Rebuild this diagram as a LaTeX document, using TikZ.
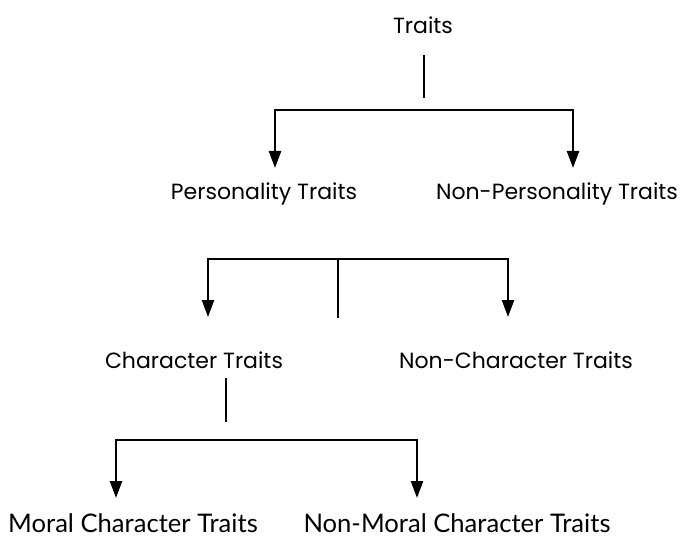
\documentclass[tikz,border=0pt]{standalone}
\usepackage{fontspec}
\setmainfont{Poppins}
\newfontfamily\moralfont{Lato}
\usetikzlibrary{arrows.meta}
\tikzset{
  trait/.style={font=\fontsize{22}{26}\selectfont, inner sep=2pt},
  subtrait/.style={font=\moralfont\fontsize{25.6}{29}\selectfont, inner sep=1pt},
  link/.style={line width=2.4pt},
  split/.style={link,-{Triangle[width=12pt,length=17pt]}}
}
\begin{document}
\begin{tikzpicture}[x=1pt,y=-1pt]
\useasboundingbox (0,0) rectangle (685,537);
% Labels
\node[trait] (traits) at (423,25) {Traits};
\node[trait] (pers) at (264,194) {Personality Traits};
\node[trait] (nonpers) at (557,194) {Non-Personality Traits};
\node[trait] (char) at (194,360) {Character Traits};
\node[trait] (nonchar) at (516,360) {Non-Character Traits};
\node[subtrait] (moral) at (133,523) {Moral Character Traits};
\node[subtrait] (nonmoral) at (457,523) {Non-Moral Character Traits};
% Branch points
\coordinate (traitsstem) at (424,55);
\coordinate (traitsbar) at (424,110);
\coordinate (persbar) at (338,259);
\coordinate (persstem) at (338,318);
\coordinate (charstem) at (226,378);
\coordinate (charbar) at (226,440);
% Top split
\draw[link] (traitsstem) -- ++(0,43);
\draw[split] (traitsbar) -| (275,168);
\draw[split] (traitsbar) -| (573,168);
% Middle split
\draw[link] (persbar) -- (persstem);
\draw[split] (persbar) -| (208,317);
\draw[split] (persbar) -| (508,317);
% Bottom split
\draw[link] (charstem) -- ++(0,44);
\draw[split] (charbar) -| (116,498);
\draw[split] (charbar) -| (417,498);
\end{tikzpicture}
\end{document}
